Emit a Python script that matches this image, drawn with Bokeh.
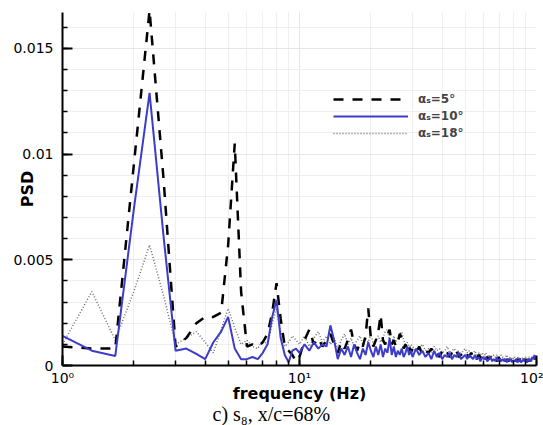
import math
from bokeh.plotting import figure
from bokeh.models import (Legend, LegendItem, Title, Range1d, SingleIntervalTicker,
                          LogTicker, CustomJSTickFormatter)
from bokeh.embed import file_html
from bokeh.resources import INLINE

# ---------------- data ----------------
freq_low = [1.0, 1.33, 1.67, 2.0, 2.33, 2.67, 3.0, 3.33, 3.67, 4.0, 4.33, 4.67,
            5.0, 5.33, 5.67, 6.0, 6.33, 6.67, 7.0, 7.33, 7.67, 8.0, 8.33, 8.67,
            9.0, 9.33, 9.67]
freq_mid = [10.0, 10.5, 11.0, 11.5, 12.0, 12.5, 13.0, 13.5, 14.0, 14.5, 15.0, 15.5,
            16.0, 16.5, 17.0, 17.5, 18.0, 18.5, 19.0, 19.5, 20.0, 20.5, 21.0, 21.5,
            22.0, 22.5, 23.0, 23.5, 24.0, 24.5, 25.0, 25.5, 26.0, 26.5, 27.0, 27.5,
            28.0, 28.5, 29.0, 29.5]
freq_high = [30, 31, 32, 33, 34, 35, 36, 37, 38, 39, 40, 41, 42, 43, 44, 45, 46, 47,
             48, 49, 50, 51, 52, 53, 54, 55, 56, 57, 58, 59, 60, 61, 62, 63, 64, 65,
             66, 67, 68, 69, 70, 71, 72, 73, 74, 75, 76, 77, 78, 79, 80, 81, 82, 83,
             84, 85, 86, 87, 88, 89, 90, 91, 92, 93, 94, 95, 96, 97, 98, 99, 100]

# alpha_s = 5 deg (dashed black)
psd5_low = [0.0009, 0.0008, 0.0008, 0.0095, 0.0168, 0.0088, 0.0009, 0.0013, 0.0020,
            0.0023, 0.0023, 0.0025, 0.0057, 0.0105, 0.0035, 0.0009, 0.0010, 0.0009,
            0.0011, 0.0015, 0.0025, 0.0039, 0.0022, 0.0009, 0.0007, 0.0005, 0.0002]
psd5_mid = [0.0004, 0.0012, 0.0017, 0.0010, 0.0013, 0.0009, 0.0012, 0.0015, 0.0010,
            0.0006, 0.0011, 0.0008, 0.0012, 0.0017, 0.0010, 0.0007, 0.0011, 0.0009,
            0.0014, 0.0027, 0.0013, 0.0009, 0.0012, 0.0016, 0.0024, 0.0012, 0.0010,
            0.0014, 0.0017, 0.0010, 0.0012, 0.0009, 0.0011, 0.0015, 0.0013, 0.0008,
            0.0010, 0.0007, 0.0009, 0.0006]
psd5_high = [0.0008, 0.0006, 0.0009, 0.0005, 0.0007, 0.0006, 0.0008, 0.0005, 0.0006,
             0.0004, 0.0007, 0.0005, 0.0006, 0.0004, 0.0006, 0.0005, 0.0007, 0.0004,
             0.0005, 0.0006, 0.0004, 0.0005, 0.0004, 0.0006, 0.0004, 0.0005, 0.0003,
             0.0005, 0.0004, 0.0003, 0.0005, 0.0003, 0.0004, 0.0003, 0.0004, 0.0003,
             0.0004, 0.0003, 0.0002, 0.0004, 0.0003, 0.0002, 0.0003, 0.0004, 0.0002,
             0.0003, 0.0002, 0.0003, 0.0002, 0.0003, 0.0002, 0.0003, 0.0002, 0.0003,
             0.0002, 0.0003, 0.0002, 0.0002, 0.0003, 0.0002, 0.0003, 0.0002, 0.0002,
             0.0003, 0.0002, 0.0003, 0.0002, 0.0003, 0.0004, 0.0003, 0.0004]

# alpha_s = 10 deg (solid blue)
psd10_low = [0.0014, 0.0007, 0.00045, 0.0074, 0.0129, 0.0061, 0.0007, 0.0008, 0.00055,
             0.0003, 0.0011, 0.0016, 0.0023, 0.0008, 0.0003, 0.0003, 0.0004, 0.0003,
             0.0006, 0.0010, 0.0023, 0.0031, 0.0013, 0.0005, 0.00015, 0.0007, 0.0008]
psd10_mid = [0.0006, 0.0010, 0.0007, 0.0011, 0.0008, 0.0010, 0.0009, 0.0019, 0.0012,
             0.0003, 0.0008, 0.0005, 0.0009, 0.0004, 0.0010, 0.0006, 0.0003, 0.0008,
             0.0005, 0.0011, 0.0007, 0.0004, 0.0009, 0.0005, 0.0010, 0.0004, 0.0008,
             0.0006, 0.0013, 0.0005, 0.0009, 0.0004, 0.0007, 0.0005, 0.0008, 0.0004,
             0.0006, 0.0009, 0.0005, 0.0007]
psd10_high = [0.0004, 0.0008, 0.0005, 0.0007, 0.0004, 0.0006, 0.0003, 0.0007, 0.0004,
              0.0006, 0.0003, 0.0005, 0.0004, 0.0006, 0.0003, 0.0005, 0.0004, 0.0006,
              0.0003, 0.0004, 0.0005, 0.0003, 0.0005, 0.0004, 0.0003, 0.0005, 0.0003,
              0.0004, 0.0002, 0.0004, 0.0003, 0.0004, 0.0002, 0.0003, 0.0004, 0.0002,
              0.0003, 0.0002, 0.0004, 0.0002, 0.0003, 0.0002, 0.0003, 0.0002, 0.0003,
              0.00015, 0.0003, 0.0002, 0.0003, 0.00015, 0.00025, 0.0002, 0.0003, 0.00015,
              0.0002, 0.0003, 0.00015, 0.0002, 0.0003, 0.0002, 0.00025, 0.00015, 0.0003,
              0.0002, 0.0003, 0.0002, 0.0004, 0.0003, 0.0005, 0.0003, 0.0004]

# alpha_s = 18 deg (dotted grey)
psd18_low = [0.0010, 0.0035, 0.0012, 0.0035, 0.0057, 0.0033, 0.0010, 0.0013, 0.0016,
             0.0011, 0.0006, 0.0017, 0.0027, 0.0018, 0.0010, 0.0012, 0.0009, 0.0008,
             0.0012, 0.0010, 0.0020, 0.0027, 0.0016, 0.0009, 0.0011, 0.0014, 0.0012]
psd18_mid = [0.0010, 0.0014, 0.0009, 0.0013, 0.0016, 0.0011, 0.0014, 0.0010, 0.0013,
             0.0008, 0.0012, 0.0015, 0.0010, 0.0013, 0.0009, 0.0012, 0.0014, 0.0010,
             0.0013, 0.0011, 0.0015, 0.0010, 0.0012, 0.0014, 0.0011, 0.0013, 0.0016,
             0.0017, 0.0012, 0.0010, 0.0014, 0.0011, 0.0013, 0.0015, 0.0016, 0.0012,
             0.0010, 0.0011, 0.0008, 0.0010]
psd18_high = [0.0009, 0.0007, 0.0008, 0.0010, 0.0007, 0.0008, 0.0006, 0.0009, 0.0007,
              0.0008, 0.0006, 0.0007, 0.0009, 0.0006, 0.0007, 0.0008, 0.0006, 0.0007,
              0.0005, 0.0007, 0.0008, 0.0006, 0.0007, 0.0005, 0.0006, 0.0007, 0.0005,
              0.0006, 0.0005, 0.0006, 0.0004, 0.0006, 0.0005, 0.0004, 0.0005, 0.0004,
              0.0005, 0.0004, 0.0005, 0.0003, 0.0004, 0.0005, 0.0004, 0.0003, 0.0004,
              0.0005, 0.0003, 0.0004, 0.0003, 0.0004, 0.0003, 0.0004, 0.0003, 0.0004,
              0.0003, 0.0004, 0.0003, 0.0003, 0.0004, 0.0003, 0.0004, 0.0003, 0.0003,
              0.0004, 0.0003, 0.0003, 0.0004, 0.0003, 0.0003, 0.0004, 0.0003]

series_labels = ["\u03b1\u209b=5\u00b0", "\u03b1\u209b=10\u00b0", "\u03b1\u209b=18\u00b0"]
x_label = "frequency (Hz)"
y_label = "PSD"
caption = "c) s\u2088, x/c=68%"

freq = freq_low + freq_mid + freq_high
psd_5 = psd5_low + psd5_mid + psd5_high
psd_10 = psd10_low + psd10_mid + psd10_high
psd_18 = psd18_low + psd18_mid + psd18_high

# ---------------- figure ----------------
p = figure(width=543, height=425, x_axis_type="log",
           x_range=Range1d(1, 100), y_range=Range1d(0, 0.0167),
           output_backend="svg", toolbar_location=None,
           min_border_left=62, min_border_right=7, min_border_top=12,
           min_border_bottom=60)
p.outline_line_color = None
p.background_fill_color = "white"
p.border_fill_color = "white"

yticker = SingleIntervalTicker(interval=0.005, num_minor_ticks=5)
xticker = LogTicker(num_minor_ticks=10)
p.yaxis.ticker = yticker
p.ygrid.ticker = yticker
p.xaxis.ticker = xticker
p.xgrid.ticker = xticker

p.yaxis.formatter = CustomJSTickFormatter(
    code="if (Math.abs(tick) < 1e-9) { return '0'; } return String(Math.round(tick*1000)/1000);")
p.xaxis.formatter = CustomJSTickFormatter(
    code="const e = Math.round(Math.log10(tick)); const s = ['\\u2070','\\u00b9','\\u00b2','\\u00b3']; return '10' + s[e];")

for g in (p.xgrid[0], p.ygrid[0]):
    g.grid_line_color = "#e6e6e6"
    g.grid_line_width = 1
    g.minor_grid_line_color = "#efefef"
    g.minor_grid_line_width = 1

for ax in (p.xaxis[0], p.yaxis[0]):
    ax.axis_line_width = 2
    ax.axis_line_color = "black"
    ax.major_tick_in = 10
    ax.major_tick_out = 0
    ax.minor_tick_in = 5
    ax.minor_tick_out = 0
    ax.major_tick_line_width = 2
    ax.minor_tick_line_width = 1.5
    ax.major_tick_line_color = "black"
    ax.minor_tick_line_color = "black"
    ax.major_label_text_font = "DejaVu Sans"
    ax.major_label_text_font_size = "14px"
    ax.major_label_text_color = "black"
    ax.axis_label_text_font = "DejaVu Sans"
    ax.axis_label_text_font_style = "bold"
    ax.axis_label_text_font_size = "16px"
    ax.axis_label_text_color = "black"
p.yaxis.major_label_standoff = 9
p.xaxis.major_label_standoff = 4
p.xaxis.axis_label = x_label
p.yaxis.axis_label = y_label
p.xaxis.axis_label_standoff = -5
p.yaxis.axis_label_standoff = -27

r18 = p.line(freq, psd_18, line_color="#6e6e6e", line_width=1.5, line_dash="1 2")
r5 = p.line(freq, psd_5, line_color="black", line_width=2.5, line_dash="10 9")
r10 = p.line(freq, psd_10, line_color="#3c3cc8", line_width=2)

legend = Legend(items=[LegendItem(label=series_labels[0], renderers=[r5]),
                       LegendItem(label=series_labels[1], renderers=[r10]),
                       LegendItem(label=series_labels[2], renderers=[r18])],
                location=(271, 224))
legend.padding = 0
legend.margin = 0
legend.spacing = 1
legend.glyph_width = 75
legend.glyph_height = 16
legend.label_height = 16
legend.label_standoff = 10
legend.border_line_alpha = 0
legend.background_fill_alpha = 0
legend.label_text_font = "DejaVu Sans"
legend.label_text_font_style = "bold"
legend.label_text_font_size = "12px"
p.add_layout(legend)

cap = Title(text=caption, align="left", offset=150, standoff=-9,
            text_font="Liberation Serif", text_font_size="20px",
            text_font_style="normal", text_color="black")
p.add_layout(cap, "below")

open("out.html", "w").write(file_html(p, INLINE))
